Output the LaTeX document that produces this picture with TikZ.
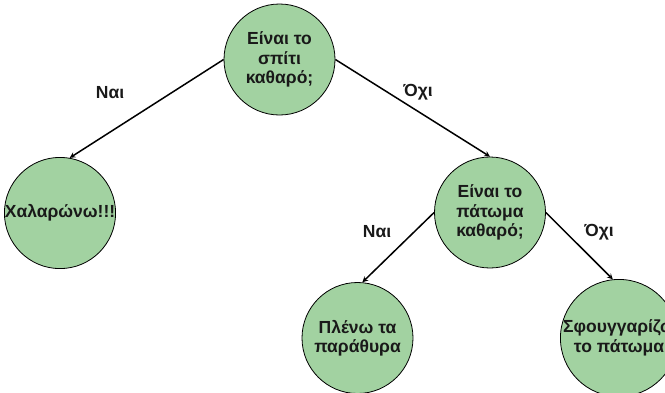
\documentclass[tikz,border=0pt]{standalone}
\usepackage{fontspec}
\setmainfont{Liberation Sans}[BoldFont = Liberation Sans Bold]
\definecolor{leafgreen}{RGB}{162,210,161}
\definecolor{inkgray}{RGB}{25,25,25}

\begin{document}
\begin{tikzpicture}[>= stealth, x = 1pt, y = 1pt]
    \tikzset{
        question/.style = {circle, draw = black, line width = .8pt, fill = leafgreen, minimum size = 111pt, inner sep = 0pt, align = center, text = inkgray, font = \fontsize{17.5}{19.5}\selectfont\bfseries},
        answer/.style = {text = inkgray, font = \fontsize{17.5}{19.5}\selectfont\bfseries},
        branch/.style = {line width = 1.5pt, ->}
    }
    \useasboundingbox (0, 0) rectangle (665, -392);

    \node [question] (house) at (279.5, -59.5) {Είναι το\\σπίτι\\καθαρό;};
    \node [question] (relax) at (60, -213) {Χαλαρώνω!!!};
    \node [question] (floor) at (490, -212.5) {Είναι το\\πάτωμα\\καθαρό;};
    \node [question] (windows) at (357.5, -338) {Πλένω τα\\παράθυρα};
    \node [question] (mop) at (619, -338) {Σφουγγαρίζω\\το πάτωμα};

    %%%%%%%%%%%%%%%%%%%%
    \draw [branch] (house.west) -- (relax.80);
    \draw [branch] (house.east) -- (floor.north);
    \draw [branch] (floor.west) -- (windows.85);
    \draw [branch] (floor.east) -- (mop.96);

    \node [answer] (yes1) at (110, -93) {Ναι};
    \node [answer] (no1) at (418, -92) {Όχι};
    \node [answer] (yes2) at (377, -232) {Ναι};
    \node [answer] (no2) at (599, -232) {Όχι};
\end{tikzpicture}
\end{document}
